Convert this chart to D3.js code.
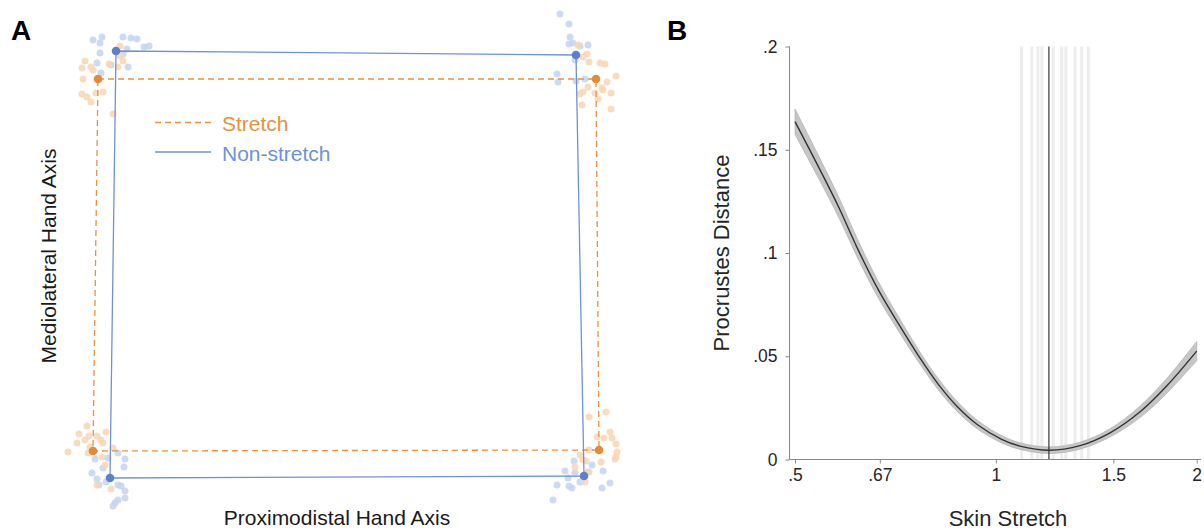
<!DOCTYPE html>
<html lang="en">
<head>
<meta charset="UTF-8">
<title>Hand map and skin stretch</title>
<script src="https://cdn.jsdelivr.net/npm/d3@7"></script>
<style>
  body { margin: 0; background: #fff; }
  text { font-family: "Liberation Sans", Arial, sans-serif; }
</style>
</head>
<body>
<div id="chart"></div>
<script>
// ---- panel A: judged corner locations (arbitrary hand units) ----
const stretchMeans = [[-24.7, 18.6], [25.1, 18.6], [25.4, -18.5], [-25.2, -18.6]];
const nonStretchMeans = [[-22.9, 21.4], [23.1, 21.0], [23.9, -21.1], [-23.5, -21.3]];

const stretchPts = [
  [-26.0,20.4],[-26.3,19.7],[-25.4,19.8],[-25.2,19.5],[-23.6,20.1],[-22.7,19.8],[-22.2,20.4],[-22.5,20.9],
  [-26.2,18.6],[-26.3,17.1],[-25.8,16.8],[-25.4,16.3],[-24.9,17.2],[-24.2,17.3],[-23.2,15.1],[-22.5,21.9],
  [23.3,22.0],[23.8,20.8],[24.2,21.1],[24.4,20.3],[25.5,20.2],[26.0,20.1],[27.1,18.9],[26.2,18.3],
  [24.3,17.8],[23.5,17.1],[23.8,17.3],[25.7,17.7],[25.8,17.5],[26.6,17.2],[25.0,17.2],[25.3,16.6],[23.7,16.0],[26.6,15.6],
  [-25.8,-16.1],[-26.6,-16.9],[-25.6,-17.1],[-24.8,-17.1],[-23.9,-16.7],[-26.0,-17.5],[-26.8,-17.8],[-24.4,-17.5],
  [-24.2,-17.8],[-25.5,-18.2],[-27.7,-18.7],[-25.7,-18.8],[-23.2,-18.3],[-24.3,-19.2],[-24.0,-20.0],[-24.8,-22.0],[-23.4,-22.4],
  [24.4,-15.2],[26.1,-14.7],[26.5,-16.7],[26.7,-17.3],[27.1,-17.9],[25.9,-17.3],[25.2,-17.2],[27.2,-18.7],
  [27.1,-19.2],[27.0,-19.4],[25.6,-19.7],[23.5,-19.0],[23.8,-19.5],[24.1,-19.6],[23.0,-20.2],[24.4,-20.7],[24.0,-21.7],[24.4,-18.5]
];

const nonStretchPts = [
  [-25.2,22.5],[-24.3,22.8],[-24.5,22.2],[-22.2,22.8],[-21.4,22.7],[-20.8,22.6],[-20.1,21.8],[-19.6,21.9],
  [-24.5,21.2],[-21.8,21.6],[-22.2,21.1],[-24.8,20.2],[-23.4,20.0],[-21.7,19.8],[-24.4,19.2],
  [21.5,25.1],[22.4,24.1],[22.5,22.8],[22.4,22.1],[22.8,22.2],[23.5,21.9],[24.3,22.0],[23.0,20.5],
  [21.2,19.1],[21.3,18.3],[23.1,18.4],[24.0,18.6],
  [-22.7,-18.8],[-25.0,-19.4],[-23.7,-19.3],[-22.0,-19.4],[-22.1,-20.2],[-24.2,-20.3],[-25.3,-20.8],[-24.8,-21.4],
  [-23.9,-21.7],[-22.7,-22.0],[-22.4,-22.1],[-22.0,-22.6],[-22.0,-23.3],[-22.7,-23.5],[-23.0,-23.8],[-23.2,-24.1],[-24.6,-22.0],
  [22.9,-19.6],[24.7,-20.0],[22.0,-20.6],[25.8,-20.6],[23.0,-20.8],[24.3,-20.7],[22.3,-21.3],[23.5,-21.7],
  [21.2,-22.0],[22.4,-22.1],[22.7,-22.3],[26.5,-21.8],[25.7,-22.3],[20.8,-23.5]
];

// ---- panel B: fitted Procrustes distance vs skin stretch ----
const stretchVals = [0.5, 0.542, 0.581, 0.622, 0.667, 0.714, 0.765, 0.82, 0.878, 0.941, 1.02, 1.087, 1.201, 1.337, 1.483, 1.645, 1.803, 2.0];
const procDist    = [0.1636, 0.1418, 0.1224, 0.1014, 0.082, 0.0659, 0.0504, 0.0364, 0.0252, 0.0166, 0.0098, 0.0065, 0.0045, 0.0067, 0.0129, 0.0231, 0.0356, 0.0525];
const ciHalf      = [0.0062, 0.0055, 0.005, 0.0045, 0.004, 0.0035, 0.003, 0.0027, 0.0024, 0.0021, 0.0018, 0.0016, 0.0016, 0.0017, 0.002, 0.0028, 0.0036, 0.0047];
const participantMins = [1.093, 1.132, 1.156, 1.172, 1.219, 1.255, 1.273, 1.314, 1.345, 1.376];
const groupMin = 1.201;

const xTicks = [0.5, 0.67, 1, 1.5, 2];
const xTickLabels = [".5", ".67", "1", "1.5", "2"];
const yTicks = [0, 0.05, 0.1, 0.15, 0.2];
const yTickLabels = ["0", ".05", ".1", ".15", ".2"];

const W = 1204, H = 530;
const svg = d3.select("#chart").append("svg")
  .attr("width", W).attr("height", H);

const orange = "#e8923f", blue = "#6f92d6";

// ---------- panel A ----------
const xA = d3.scaleLinear().domain([-30, 30]).range([45, 645]);
const yA = d3.scaleLinear().domain([-25, 25]).range([515, 15]);
const gA = svg.append("g");

gA.selectAll(".ns-pt").data(nonStretchPts).join("circle")
  .attr("cx", d => xA(d[0])).attr("cy", d => yA(d[1])).attr("r", 3.5)
  .attr("fill", "#c4d3ef").attr("opacity", 0.85);
gA.selectAll(".s-pt").data(stretchPts).join("circle")
  .attr("cx", d => xA(d[0])).attr("cy", d => yA(d[1])).attr("r", 3.5)
  .attr("fill", "#f7d6b4").attr("opacity", 0.85);

const quad = d3.line().x(d => xA(d[0])).y(d => yA(d[1])).curve(d3.curveLinearClosed);
gA.append("path").attr("d", quad(stretchMeans))
  .attr("fill", "none").attr("stroke", orange).attr("stroke-width", 1.3)
  .attr("stroke-dasharray", "6,4");
gA.append("path").attr("d", quad(nonStretchMeans))
  .attr("fill", "none").attr("stroke", blue).attr("stroke-width", 1.3);

gA.selectAll(".s-mean").data(stretchMeans).join("circle")
  .attr("cx", d => xA(d[0])).attr("cy", d => yA(d[1])).attr("r", 4.3).attr("fill", "#e58a36");
gA.selectAll(".ns-mean").data(nonStretchMeans).join("circle")
  .attr("cx", d => xA(d[0])).attr("cy", d => yA(d[1])).attr("r", 4.3).attr("fill", "#5b80cc");

// legend
gA.append("line").attr("x1", 155).attr("x2", 211).attr("y1", 122.5).attr("y2", 122.5)
  .attr("stroke", orange).attr("stroke-width", 1.3).attr("stroke-dasharray", "6,4");
gA.append("text").attr("x", 222).attr("y", 131).text("Stretch")
  .attr("fill", orange).attr("font-size", 21);
gA.append("line").attr("x1", 155).attr("x2", 211).attr("y1", 152).attr("y2", 152)
  .attr("stroke", blue).attr("stroke-width", 1.3);
gA.append("text").attr("x", 222).attr("y", 161).text("Non-stretch")
  .attr("fill", blue).attr("font-size", 21);

gA.append("text").attr("x", 337).attr("y", 525).attr("text-anchor", "middle")
  .attr("font-size", 21).attr("fill", "#1a1a1a").text("Proximodistal Hand Axis");
gA.append("text").attr("transform", "translate(56,256) rotate(-90)").attr("text-anchor", "middle")
  .attr("font-size", 21).attr("fill", "#1a1a1a").text("Mediolateral Hand Axis");

svg.append("text").attr("x", 11).attr("y", 40).attr("font-size", 28).attr("font-weight", "bold").text("A");
svg.append("text").attr("x", 667).attr("y", 40).attr("font-size", 28).attr("font-weight", "bold").text("B");

// ---------- panel B ----------
const xB = d3.scaleLog().base(2).domain([0.5, 2]).range([795, 1196.7]);
const yB = d3.scaleLinear().domain([0, 0.2]).range([459.5, 46.5]);
const gB = svg.append("g");

gB.selectAll(".pmin").data(participantMins).join("line")
  .attr("x1", d => xB(d)).attr("x2", d => xB(d))
  .attr("y1", yB(0.2)).attr("y2", yB(0))
  .attr("stroke", "#ededed").attr("stroke-width", 3);

const smooth = d3.curveCatmullRom.alpha(0.5);
const band = d3.area()
  .x((d, i) => xB(stretchVals[i]))
  .y0((d, i) => yB(d - ciHalf[i]))
  .y1((d, i) => yB(d + ciHalf[i]))
  .curve(smooth);
gB.append("path").attr("d", band(procDist))
  .attr("fill", "#c6c6c6").attr("stroke", "#aaa").attr("stroke-width", 0.6);

const fit = d3.line().x((d, i) => xB(stretchVals[i])).y(d => yB(d)).curve(smooth);
gB.append("path").attr("d", fit(procDist))
  .attr("fill", "none").attr("stroke", "#333").attr("stroke-width", 1.4);

gB.append("line").attr("x1", xB(groupMin)).attr("x2", xB(groupMin))
  .attr("y1", yB(0.2)).attr("y2", yB(0))
  .attr("stroke", "#333").attr("stroke-width", 1.2);

// axes
const xAxis = d3.axisBottom(xB).tickValues(xTicks).tickFormat((d, i) => xTickLabels[i])
  .tickSize(4).tickSizeOuter(0).tickPadding(5);
const yAxis = d3.axisLeft(yB).tickValues(yTicks).tickFormat((d, i) => yTickLabels[i])
  .tickSize(4).tickSizeOuter(0).tickPadding(8);

const gx = gB.append("g").attr("transform", "translate(0,459.5)").call(xAxis);
const gy = gB.append("g").attr("transform", "translate(789.5,0)").call(yAxis);
[gx, gy].forEach(g => {
  g.select(".domain").remove();
  g.selectAll(".tick line").attr("stroke", "#888");
  g.selectAll(".tick text").attr("fill", "#262626").attr("font-size", 17.5)
    .attr("font-family", "Liberation Sans, Arial, sans-serif");
});
gB.append("line").attr("x1", 789.5).attr("x2", 1201).attr("y1", 459.5).attr("y2", 459.5)
  .attr("stroke", "#888");
gB.append("line").attr("x1", 789.5).attr("x2", 789.5).attr("y1", 46.5).attr("y2", 459.5)
  .attr("stroke", "#888");

gB.append("text").attr("x", 1008).attr("y", 526).attr("text-anchor", "middle")
  .attr("font-size", 22).attr("fill", "#262626").text("Skin Stretch");
gB.append("text").attr("transform", "translate(729,253) rotate(-90)").attr("text-anchor", "middle")
  .attr("font-size", 22).attr("fill", "#262626").text("Procrustes Distance");
</script>
</body>
</html>
